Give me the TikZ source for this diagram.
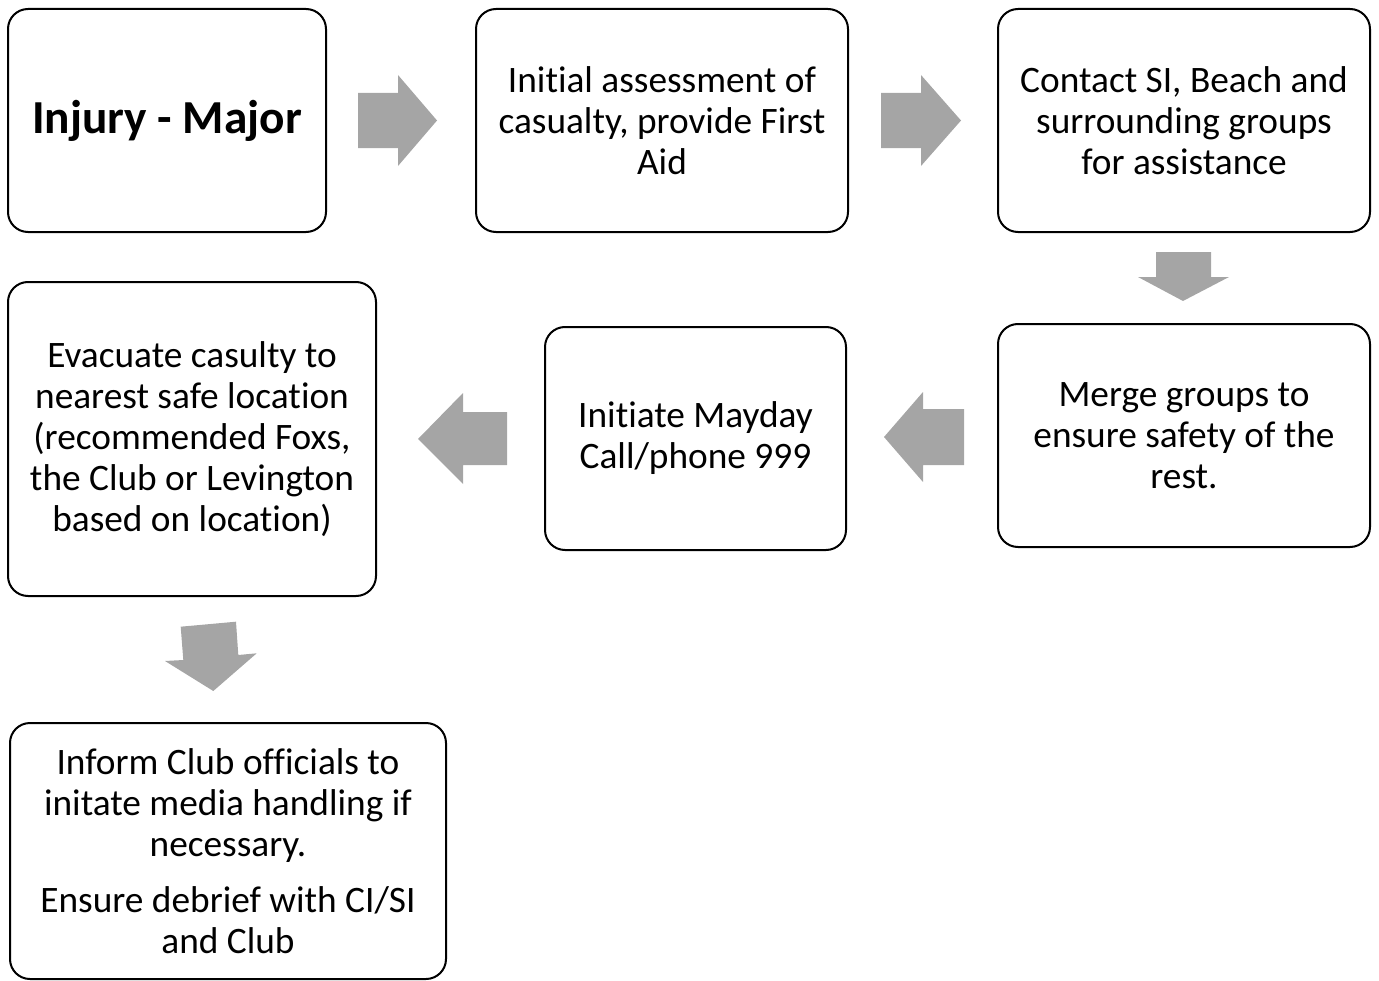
\documentclass[tikz,border=0pt]{standalone}
\usepackage{fontspec}
\setmainfont{Carlito}[Ligatures={NoCommon}]
\definecolor{arrowgray}{HTML}{A5A5A5}
\begin{document}
\begin{tikzpicture}[x=0.75pt,y=-0.75pt,
  box/.style={draw=black, line width=1.5pt, rounded corners=15pt, fill=white,
    align=center, inner sep=0pt, font=\fontsize{28}{30.75}\selectfont},
  bigarrow/.style={fill=arrowgray, draw=none}]
\useasboundingbox (0,0) rectangle (1379,981);
\node[box, minimum width=238.5pt, minimum height=167.25pt, font=\fontsize{35.5}{40}\selectfont\bfseries] (b1) at (167,120.5) {Injury - Major};
\node[box, minimum width=279pt, minimum height=167.25pt] (b2) at (662,120.5) {Initial assessment of\\casualty, provide First\\Aid};
\node[box, minimum width=279pt, minimum height=167.25pt] (b3) at (1184,120.5) {Contact SI, Beach and\\surrounding groups\\for assistance};
\node[box, minimum width=279pt, minimum height=167.25pt] (b4) at (1184,435.5) {Merge groups to\\ensure safety of the\\rest.};
\node[box, minimum width=225.75pt, minimum height=167.25pt] (b5) at (695.5,438.5) {Initiate Mayday\\Call/phone 999};
\node[box, minimum width=276pt, minimum height=235.5pt] (b6) at (192,439) {Evacuate casulty to\\nearest safe location\\(recommended Foxs,\\the Club or Levington\\based on location)};
\node[box, minimum width=327pt, minimum height=192pt] (b7) at (228,851) {Inform Club officials to\\initate media handling if\\necessary.\\[11pt]Ensure debrief with CI/SI\\and Club};
% arrows
\fill[bigarrow] (358,93) -- (398,93) -- (398,75) -- (437,120.5) -- (398,166) -- (398,148) -- (358,148) -- cycle;
\fill[bigarrow] (881,93) -- (921,93) -- (921,75) -- (961,120.5) -- (921,166) -- (921,148) -- (881,148) -- cycle;
\fill[bigarrow] (1156,252) -- (1211,252) -- (1211,277) -- (1229,277) -- (1183,301) -- (1138,277) -- (1156,277) -- cycle;
\fill[bigarrow] (964,409) -- (923,409) -- (923,392) -- (884,437) -- (923,482) -- (923,465) -- (964,465) -- cycle;
\fill[bigarrow] (507,412) -- (463,412) -- (463,393) -- (418,439) -- (463,484) -- (463,465) -- (507,465) -- cycle;
\fill[bigarrow] (180.7,626.7) -- (236,621.7) -- (238.3,655) -- (256.7,653.3) -- (213.3,691) -- (165,661) -- (183.3,660) -- cycle;
\end{tikzpicture}
\end{document}
